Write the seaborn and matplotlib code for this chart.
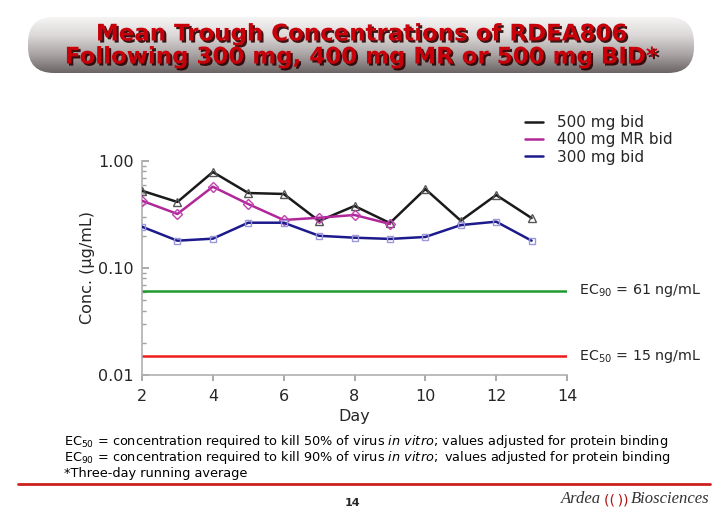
import numpy as np
import pandas as pd
import matplotlib
matplotlib.use("Agg")
import matplotlib.pyplot as plt
import seaborn as sns
from matplotlib.patches import FancyBboxPatch
import matplotlib.patheffects as pe
from matplotlib.ticker import FixedLocator, LogLocator, NullFormatter

days_500 = [2, 3, 4, 5, 6, 7, 8, 9, 10, 11, 12, 13]
conc_500 = [0.527, 0.414, 0.789, 0.502, 0.492, 0.275, 0.380, 0.263, 0.547, 0.277, 0.481, 0.293]
days_400 = [2, 3, 4, 5, 6, 7, 8, 9]
conc_400 = [0.425, 0.320, 0.575, 0.396, 0.281, 0.295, 0.313, 0.258]
days_300 = [2, 3, 4, 5, 6, 7, 8, 9, 10, 11, 12, 13]
conc_300 = [0.243, 0.180, 0.188, 0.265, 0.265, 0.200, 0.192, 0.187, 0.195, 0.252, 0.271, 0.180]
series_labels = ["500 mg bid", "400 mg MR bid", "300 mg bid"]
ec90 = 0.061
ec50 = 0.015
x_ticks = [2, 4, 6, 8, 10, 12, 14]
y_ticks = [0.01, 0.10, 1.00]
y_tick_labels = ["0.01", "0.10", "1.00"]

sns.set_theme(style="white")
plt.rcParams['font.family'] = ['DejaVu Sans']

fig = plt.figure(figsize=(7.2, 5.3), dpi=100)

# Banner
bax = fig.add_axes([0, 0, 1, 1], zorder=0)
bax.set_xlim(0, 720)
bax.set_ylim(530, 0)
bax.axis("off")
grad = np.linspace(0, 1, 256).reshape(-1, 1)
cmap = matplotlib.colors.LinearSegmentedColormap.from_list(
    "g", ["#f6f4f4", "#dcd8d8", "#aaa4a4", "#6a6464"])
banner = FancyBboxPatch((28, 17), 666, 56, boxstyle="round,pad=0,rounding_size=26",
                        transform=bax.transData, facecolor="none", edgecolor="none")
bax.add_patch(banner)
im = bax.imshow(grad, extent=[28, 694, 73, 17], cmap=cmap, aspect="auto", zorder=1)
im.set_clip_path(banner)
shadow = [pe.withSimplePatchShadow(offset=(1.5, -1.5), shadow_rgbFace="#2a0000", alpha=0.9)]
bax.text(361, 34, "Mean Trough Concentrations of RDEA806", ha="center", va="center",
         fontsize=16.5, fontweight="bold", color="#c8000a", zorder=3, path_effects=shadow)
bax.text(361, 57, "Following 300 mg, 400 mg MR or 500 mg BID*", ha="center", va="center",
         fontsize=16.5, fontweight="bold", color="#c8000a", zorder=3, path_effects=shadow)

# Footer
fs_foot = 9.3
bax.text(64, 441, r"EC$_{50}$ = concentration required to kill 50% of virus $\it{in\ vitro}$; values adjusted for protein binding",
         fontsize=fs_foot, va="center", ha="left", color="black")
bax.text(64, 458, r"EC$_{90}$ = concentration required to kill 90% of virus $\it{in\ vitro;}$ values adjusted for protein binding",
         fontsize=fs_foot, va="center", ha="left", color="black")
bax.text(64, 474, "*Three-day running average", fontsize=fs_foot, va="center", ha="left", color="black")
bax.plot([18, 710], [484, 484], color="#cc1f1f", lw=2)
bax.text(353, 503, "14", fontsize=8, fontweight="bold", ha="center", va="center")
bax.text(601, 499, "Ardea", fontsize=12, family="Liberation Serif", style="italic", ha="right", va="center", color="#333333")
bax.text(631, 499, "Biosciences", fontsize=12, family="Liberation Serif", style="italic", ha="left", va="center", color="#333333")
bax.text(616, 500, "((\u2009))", fontsize=10, ha="center", va="center", color="#b01010")

# Chart
ax = fig.add_axes([142/720, 1-375/530, (567-142)/720, (375-161)/530], zorder=2)
ax.patch.set_alpha(0)

df500 = pd.DataFrame({"Day": days_500, "Conc": conc_500})
df400 = pd.DataFrame({"Day": days_400, "Conc": conc_400})
df300 = pd.DataFrame({"Day": days_300, "Conc": conc_300})

ax.axhline(ec90, xmin=0, xmax=1, color="#1f9a2e", lw=1.8, zorder=1)
ax.axhline(ec50, xmin=0, xmax=1, color="#ee1c1c", lw=1.8, zorder=1)

sns.lineplot(data=df500, x="Day", y="Conc", ax=ax, color="#1a1a1a", lw=1.8,
             marker="^", markersize=6, markerfacecolor="none", markeredgecolor="#555555",
             markeredgewidth=1, label=series_labels[0], zorder=3)
sns.lineplot(data=df400, x="Day", y="Conc", ax=ax, color="#b0279a", lw=1.8,
             marker="D", markersize=5, markerfacecolor="none", markeredgecolor="#c040b0",
             markeredgewidth=1, label=series_labels[1], zorder=3)
sns.lineplot(data=df300, x="Day", y="Conc", ax=ax, color="#1c1a8c", lw=1.8,
             marker="s", markersize=5, markerfacecolor="none", markeredgecolor="#9a98d8",
             markeredgewidth=1, label=series_labels[2], zorder=3)

ax.set_yscale("log")
ax.set_ylim(0.01, 1.0)
ax.set_xlim(2, 14)
ax.yaxis.set_major_locator(FixedLocator(y_ticks))
ax.set_yticklabels(y_tick_labels)
ax.yaxis.set_minor_locator(LogLocator(base=10, subs=np.arange(2, 10)))
ax.yaxis.set_minor_formatter(NullFormatter())
ax.set_xticks(x_ticks)
ax.set_xticklabels([str(t) for t in x_ticks])
for s in ["top", "right"]:
    ax.spines[s].set_visible(False)
for s in ["left", "bottom"]:
    ax.spines[s].set_color("#b0b0b0")
    ax.spines[s].set_linewidth(1.2)
ax.tick_params(axis="both", which="major", direction="in", length=5, color="#a0a0a0",
               labelsize=11.5, pad=6, left=True, bottom=True)
ax.tick_params(axis="y", which="minor", direction="in", length=3, color="#a0a0a0", left=True)
ax.tick_params(axis="x", which="major", direction="out", length=4)
ax.grid(False)
ax.set_xlabel("Day", fontsize=11.5, labelpad=4)
ax.set_ylabel("Conc. (\u00b5g/mL)", fontsize=11.5, labelpad=2)

ax.text(14.35, ec90, r"EC$_{90}$ = 61 ng/mL", fontsize=10.3, va="center", ha="left")
ax.text(14.35, ec50, r"EC$_{50}$ = 15 ng/mL", fontsize=10.3, va="center", ha="left")

leg = ax.legend(loc="upper left", bbox_to_anchor=(519/720, 1-109/530), bbox_transform=fig.transFigure,
                frameon=False, fontsize=11, handlelength=1.2, handletextpad=0.9, labelspacing=0.15,
                borderaxespad=0)
for h in leg.legend_handles:
    h.set_marker("")

fig.savefig("out.png", dpi=100)
